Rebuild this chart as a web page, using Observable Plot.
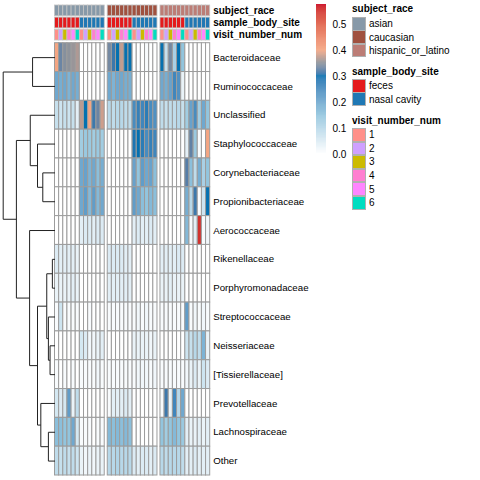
<!DOCTYPE html>
<html>
<head>
<meta charset="utf-8">
<script src="https://cdn.jsdelivr.net/npm/d3@7"></script>
<script src="https://cdn.jsdelivr.net/npm/@observablehq/plot@0.6"></script>
<style>
  html, body { margin: 0; padding: 0; background: white; }
  #chart { position: relative; width: 480px; height: 480px; overflow: hidden; font-family: "Liberation Sans", Arial, sans-serif; }
  #chart > svg { position: absolute; left: 0; top: 0; }
  .lg { position: absolute; font-size: 10px; color: #000; }
  .lg-title { position: absolute; font-weight: bold; font-size: 10px; white-space: nowrap; }
  .lg-item { position: absolute; height: 13.5px; display: flex; align-items: center; white-space: nowrap; }
  .lg-sw { width: 14px; height: 13.5px; box-sizing: border-box; border: 1px solid #b0b0b0; margin-right: 3px; }
</style>
</head>
<body>
<div id="chart"></div>
<script>
// ---------------- data ----------------
const races = ["asian", "caucasian", "hispanic_or_latino"];
const sites = ["feces", "nasal cavity"];
const visits = [1, 2, 3, 4, 5, 6];
const families = ["Bacteroidaceae", "Ruminococcaceae", "Unclassified", "Staphylococcaceae",
  "Corynebacteriaceae", "Propionibacteriaceae", "Aerococcaceae", "Rikenellaceae",
  "Porphyromonadaceae", "Streptococcaceae", "Neisseriaceae", "[Tissierellaceae]",
  "Prevotellaceae", "Lachnospiraceae", "Other"];

const raceColors = ["#8799A8", "#A0513F", "#BC7D76"];
const siteColors = ["#E41A1C", "#1F78B4"];
const visitColors = ["#FF9089", "#CFA0FF", "#CCBB00", "#FF7FD0", "#FF85FF", "#00DDC0"];

// columns in each panel: feces v1..v6, nasal cavity v1..v6
const asianValues = [
  [0.40, 0.33, 0.345, 0.35, 0.355, 0.365, 0, 0, 0, 0, 0, 0],
  [0.20, 0.19, 0.20, 0.18, 0.20, 0.19, 0, 0, 0, 0, 0, 0],
  [0.08, 0.07, 0.08, 0.07, 0.08, 0.04, 0.37, 0.30, 0.40, 0.31, 0.33, 0.38],
  [0, 0, 0, 0, 0, 0, 0.13, 0.14, 0.14, 0.13, 0.14, 0.13],
  [0, 0, 0, 0, 0, 0, 0.20, 0.21, 0.18, 0.20, 0.16, 0.19],
  [0, 0, 0, 0, 0, 0, 0.20, 0.22, 0.17, 0.22, 0.17, 0.20],
  [0, 0, 0, 0, 0, 0, 0.04, 0.05, 0.05, 0.04, 0.05, 0.05],
  [0.05, 0.04, 0.04, 0.04, 0.04, 0.03, 0, 0, 0, 0, 0, 0],
  [0.03, 0.03, 0.03, 0.03, 0.04, 0.03, 0, 0, 0, 0, 0, 0],
  [0.01, 0.07, 0.01, 0.01, 0.01, 0.01, 0, 0, 0.01, 0, 0, 0],
  [0, 0, 0, 0, 0, 0, 0.06, 0.05, 0.02, 0.02, 0.03, 0.04],
  [0.01, 0, 0.01, 0, 0.01, 0, 0.01, 0.01, 0.01, 0.01, 0.02, 0.01],
  [0.06, 0.05, 0.06, 0.22, 0.03, 0.09, 0, 0, 0, 0, 0, 0],
  [0.16, 0.16, 0.15, 0.15, 0.20, 0.06, 0.01, 0.01, 0.01, 0, 0.01, 0.01],
  [0.09, 0.08, 0.09, 0.08, 0.09, 0.07, 0.03, 0.02, 0.03, 0.02, 0.03, 0.03]
];
const caucasianValues = [
  [0.335, 0.31, 0.30, 0.375, 0.30, 0.30, 0, 0, 0, 0.01, 0, 0],
  [0.20, 0.18, 0.20, 0.20, 0.19, 0.19, 0, 0, 0, 0, 0, 0],
  [0.10, 0.09, 0.10, 0.10, 0.09, 0.09, 0.25, 0.27, 0.26, 0.28, 0.25, 0.24],
  [0, 0, 0, 0, 0, 0, 0.29, 0.30, 0.28, 0.25, 0.27, 0.26],
  [0, 0, 0, 0, 0, 0, 0.21, 0.15, 0.22, 0.20, 0.21, 0.16],
  [0, 0, 0, 0, 0, 0, 0.22, 0.20, 0.16, 0.15, 0.17, 0.16],
  [0, 0, 0, 0, 0, 0, 0.04, 0.05, 0.04, 0.04, 0.05, 0.04],
  [0.05, 0.05, 0.05, 0.05, 0.04, 0.04, 0, 0, 0, 0, 0, 0],
  [0.04, 0.04, 0.04, 0.04, 0.04, 0.04, 0, 0, 0, 0, 0, 0],
  [0.01, 0.01, 0.01, 0.01, 0.01, 0.01, 0.01, 0.02, 0.01, 0.02, 0.01, 0.01],
  [0, 0, 0, 0, 0, 0, 0.03, 0.03, 0.03, 0.03, 0.02, 0.03],
  [0.01, 0.01, 0.01, 0.01, 0.01, 0.01, 0.01, 0.02, 0.02, 0.02, 0.01, 0.02],
  [0.01, 0.04, 0.04, 0.04, 0.05, 0.04, 0, 0, 0, 0, 0, 0],
  [0.17, 0.16, 0.17, 0.16, 0.17, 0.16, 0, 0, 0, 0, 0, 0],
  [0.10, 0.10, 0.11, 0.10, 0.10, 0.10, 0.05, 0.04, 0.05, 0.05, 0.04, 0.05]
];
const hispanicValues = [
  [0.30, 0.08, 0.335, 0.12, 0.30, 0.15, 0, 0, 0, 0, 0, 0],
  [0.20, 0.19, 0.21, 0.26, 0.24, 0.03, 0, 0, 0, 0, 0, 0],
  [0.09, 0.08, 0.09, 0.09, 0.10, 0.08, 0.13, 0.21, 0.25, 0.13, 0.20, 0.15],
  [0, 0, 0, 0, 0, 0, 0.04, 0.325, 0.14, 0.01, 0, 0.40],
  [0, 0, 0, 0, 0, 0, 0.32, 0.16, 0.09, 0.19, 0.12, 0.15],
  [0, 0, 0, 0, 0, 0, 0.19, 0.10, 0.31, 0.01, 0.07, 0.30],
  [0, 0, 0, 0, 0, 0, 0.17, 0.01, 0.04, 0.55, 0.01, 0.02],
  [0.04, 0.04, 0.04, 0.04, 0.05, 0.05, 0, 0, 0, 0, 0, 0],
  [0.03, 0.03, 0.04, 0.03, 0.03, 0.03, 0, 0, 0, 0, 0, 0],
  [0.01, 0.01, 0.01, 0.01, 0.01, 0.01, 0.22, 0.01, 0.02, 0.01, 0.02, 0.01],
  [0, 0, 0, 0, 0, 0, 0.07, 0.08, 0.10, 0.09, 0.18, 0.03],
  [0.01, 0.01, 0.01, 0.01, 0.01, 0.01, 0.02, 0.03, 0.05, 0.03, 0.07, 0.05],
  [0.01, 0.31, 0.03, 0.26, 0.10, 0.20, 0, 0, 0, 0, 0, 0],
  [0.15, 0.13, 0.15, 0.17, 0.15, 0.14, 0.04, 0.03, 0.03, 0.04, 0.03, 0.04],
  [0.10, 0.09, 0.10, 0.10, 0.10, 0.09, 0.04, 0.04, 0.05, 0.04, 0.04, 0.04]
];

// hierarchical clustering of rows (R hclust style: negative = leaf, positive = merge step)
const dendroMerges = [
  [-1, -2, 68], [-5, -6, 37], [-4, 2, 53], [-3, 3, 75], [-8, -9, 8],
  [-11, -12, 15], [-10, 6, 20], [5, 7, 25], [-14, -15, 20], [-13, 9, 43],
  [8, 10, 53], [-7, 11, 77], [4, 12, 117], [1, 13, 157]
];

const heatStops = [0, 0.15, 0.3, 0.35, 0.4, 0.577];
const heatColors = ["#FFFFFF", "#92C5DE", "#0571B0", "#8E939B", "#F4A582", "#CA0020"];
const legendTicks = [0, 0.1, 0.2, 0.3, 0.4, 0.5];

// ---------------- build ----------------
const colKeys = sites.flatMap(s => visits.map(v => `${s} ${v}`));
const raceValues = [asianValues, caucasianValues, hispanicValues];
const heat = races.flatMap((race, r) => raceValues[r].flatMap((row, i) =>
  row.map((value, j) => ({race, col: colKeys[j], family: families[i], value}))));
const annoRows = ["subject_race", "sample_body_site", "visit_number_num"];
const anno = races.flatMap((race, r) => colKeys.flatMap((col, j) => [
  {race, col, row: annoRows[0], color: raceColors[r]},
  {race, col, row: annoRows[1], color: siteColors[Math.floor(j / visits.length)]},
  {race, col, row: annoRows[2], color: visitColors[j % visits.length]}
]));

const colorScale = {type: "linear", domain: heatStops, range: heatColors, interpolate: "lab"};
const FONT = "'Liberation Sans', Arial, sans-serif";
const chart = document.getElementById("chart");

const fxOpts = {domain: races, paddingInner: 0.057, paddingOuter: 0, round: false, axis: null};
const xOpts = {domain: colKeys, padding: 0, round: false, axis: null};
const L = 54.5, R = 480 - 209.7;
const noFacetMargins = {marginTop: 0, marginRight: 0, marginBottom: 0, marginLeft: 0};

// annotation rows
const annoPlot = Plot.plot({
  width: 480, height: 480,
  marginLeft: L, marginRight: R, marginTop: 5, marginBottom: 440,
  style: {background: "transparent", fontFamily: FONT, fontSize: "10px", fontWeight: "bold"},
  facet: {data: anno, x: "race", ...noFacetMargins},
  fx: fxOpts,
  x: xOpts,
  y: {domain: annoRows, paddingInner: 0.11, paddingOuter: 0, round: false, axis: "right", tickSize: 0, tickPadding: 3, label: null},
  color: {type: "identity"},
  marks: [
    Plot.cell(anno, {x: "col", y: "row", fill: "color", stroke: "#c4c4c4", strokeWidth: 0.8, inset: 0})
  ]
});
chart.appendChild(annoPlot);

// heatmap body
const bodyPlot = Plot.plot({
  width: 480, height: 480,
  marginLeft: L, marginRight: R, marginTop: 42.7, marginBottom: 5,
  style: {background: "transparent", fontFamily: FONT, fontSize: "9.7px"},
  facet: {data: heat, x: "race", ...noFacetMargins},
  fx: fxOpts,
  x: xOpts,
  y: {domain: families, padding: 0, round: false, axis: "right", tickSize: 0, tickPadding: 3, label: null},
  color: colorScale,
  marks: [
    Plot.cell(heat, {x: "col", y: "family", fill: "value", stroke: "#9c9c9c", strokeWidth: 1, inset: 0})
  ]
});
chart.appendChild(bodyPlot);

// dendrogram
const nodes = [];
const posOf = k => k < 0 ? {y: -k - 1, h: 0} : nodes[k - 1];
const segs = [];
for (const [a, b, h] of dendroMerges) {
  const A = posOf(a), B = posOf(b);
  segs.push({x1: A.h, y1: A.y, x2: h, y2: A.y});
  segs.push({x1: B.h, y1: B.y, x2: h, y2: B.y});
  segs.push({x1: h, y1: A.y, x2: h, y2: B.y});
  nodes.push({y: (A.y + B.y) / 2, h});
}
const dendroPlot = Plot.plot({
  width: 480, height: 480,
  style: {background: "transparent"},
  x: {domain: [157, 0], range: [2.7, 54.5], axis: null},
  y: {domain: [-0.5, families.length - 0.5], range: [42.7, 475], axis: null},
  marks: [
    Plot.link(segs, {x1: "x1", y1: "y1", x2: "x2", y2: "y2", stroke: "#222", strokeWidth: 1})
  ]
});
chart.appendChild(dendroPlot);

// color bar
const step = 0.002;
const ramp = d3.range(0, heatStops[heatStops.length - 1], step);
const barPlot = Plot.plot({
  width: 480, height: 480,
  marginLeft: 316, marginRight: 480 - 326,
  style: {background: "transparent", fontFamily: FONT, fontSize: "10px"},
  y: {domain: [0, heatStops[heatStops.length - 1]], range: [154, 4], axis: null},
  color: colorScale,
  marks: [
    Plot.rect(ramp, {y1: d => d, y2: d => Math.min(d + step * 1.5, heatStops[heatStops.length - 1]), fill: d => d}),
    Plot.axisY(legendTicks, {anchor: "right", tickSize: 0, tickPadding: 6, label: null})
  ]
});
chart.appendChild(barPlot);

// categorical legends
function addLegend(title, labels, colors, titleY, firstY, stepY) {
  const t = document.createElement("div");
  t.className = "lg-title";
  t.textContent = title;
  t.style.left = "352px";
  t.style.top = (titleY - 6) + "px";
  chart.appendChild(t);
  labels.forEach((lab, i) => {
    const it = document.createElement("div");
    it.className = "lg lg-item";
    it.style.left = "352px";
    it.style.top = (firstY + i * stepY) + "px";
    const sw = document.createElement("div");
    sw.className = "lg-sw";
    sw.style.background = colors[i];
    it.appendChild(sw);
    const tx = document.createElement("span");
    tx.textContent = String(lab);
    it.appendChild(tx);
    chart.appendChild(it);
  });
}
addLegend("subject_race", races, raceColors, 9, 17, 13.4);
addLegend("sample_body_site", sites, siteColors, 71.7, 79, 13.4);
addLegend("visit_number_num", visits, visitColors, 120.7, 128, 13.6);
</script>
</body>
</html>
